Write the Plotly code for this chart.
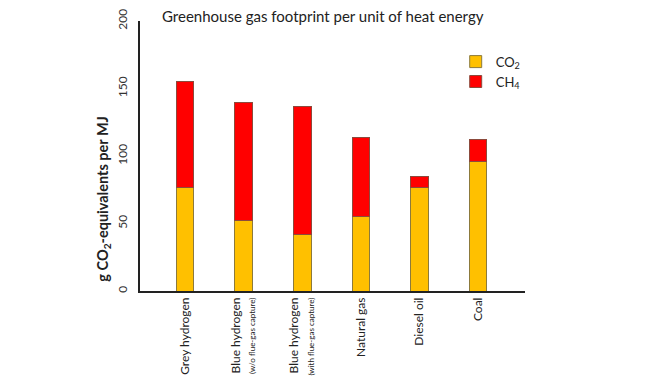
import plotly.graph_objects as go

categories = [
    "Grey hydrogen",
    "Blue hydrogen<br><span style='font-size:8px'>(w/o flue-gas capture)</span>",
    "Blue hydrogen<br><span style='font-size:8px'>(with flue-gas capture)</span>",
    "Natural gas",
    "Diesel oil",
    "Coal",
]
co2_values = [77, 52, 42, 55, 77, 96]
ch4_values = [78, 88, 95, 59, 8, 16]
y_ticks = [0, 50, 100, 150, 200]

FONT = "Lato, Carlito, 'Open Sans', sans-serif"
idx = list(range(len(categories)))

fig = go.Figure()
fig.add_trace(go.Bar(
    x=idx, y=co2_values, name="CO<sub>2</sub>",
    marker=dict(color="#FFC000", line=dict(color="#8c7a3c", width=1)),
    width=0.3,
))
fig.add_trace(go.Bar(
    x=idx, y=ch4_values, name="CH<sub>4</sub>",
    marker=dict(color="#FF0000", line=dict(color="#8c4a3c", width=1)),
    width=0.3,
))

fig.update_layout(
    barmode="stack",
    width=650, height=390,
    margin=dict(l=132, r=133, t=13, b=107, pad=0, autoexpand=False),
    paper_bgcolor="white", plot_bgcolor="white",
    font=dict(family=FONT, size=12, color="#222"),
    showlegend=True,
    legend=dict(
        x=0.82, y=0.905, xanchor="left", yanchor="top",
        traceorder="normal", font=dict(size=13, color="#222"),
        bgcolor="rgba(0,0,0,0)", itemwidth=30,
    ),
    xaxis=dict(
        tickmode="array", tickvals=idx, ticktext=categories,
        range=[-0.77, 5.8], tickangle=-90, automargin=False,
        showline=True, linecolor="#222", linewidth=1.5,
        ticks="", showgrid=False, zeroline=False,
        tickfont=dict(size=12, color="#222"),
    ),
    yaxis=dict(
        range=[0, 200], tickvals=y_ticks, tickangle=-90, automargin=False,
        showline=True, linecolor="#222", linewidth=1.5,
        ticks="", showgrid=False, zeroline=False,
        tickfont=dict(size=12, color="#333"),
        ticklabelstandoff=6,
    ),
    annotations=[
        dict(text="Greenhouse gas footprint per unit of heat energy",
             xref="paper", yref="paper", x=0.475, y=0.977,
             xanchor="center", yanchor="bottom", showarrow=False,
             font=dict(size=15, color="#222")),
        dict(text="<b>g CO<sub>2</sub>-equivalents per MJ</b>",
             xref="paper", yref="paper", x=-0.095, y=0.34,
             xanchor="center", yanchor="middle", showarrow=False,
             textangle=-90, font=dict(size=14.5, color="#222")),
    ],
)

fig.write_html("out.html")
